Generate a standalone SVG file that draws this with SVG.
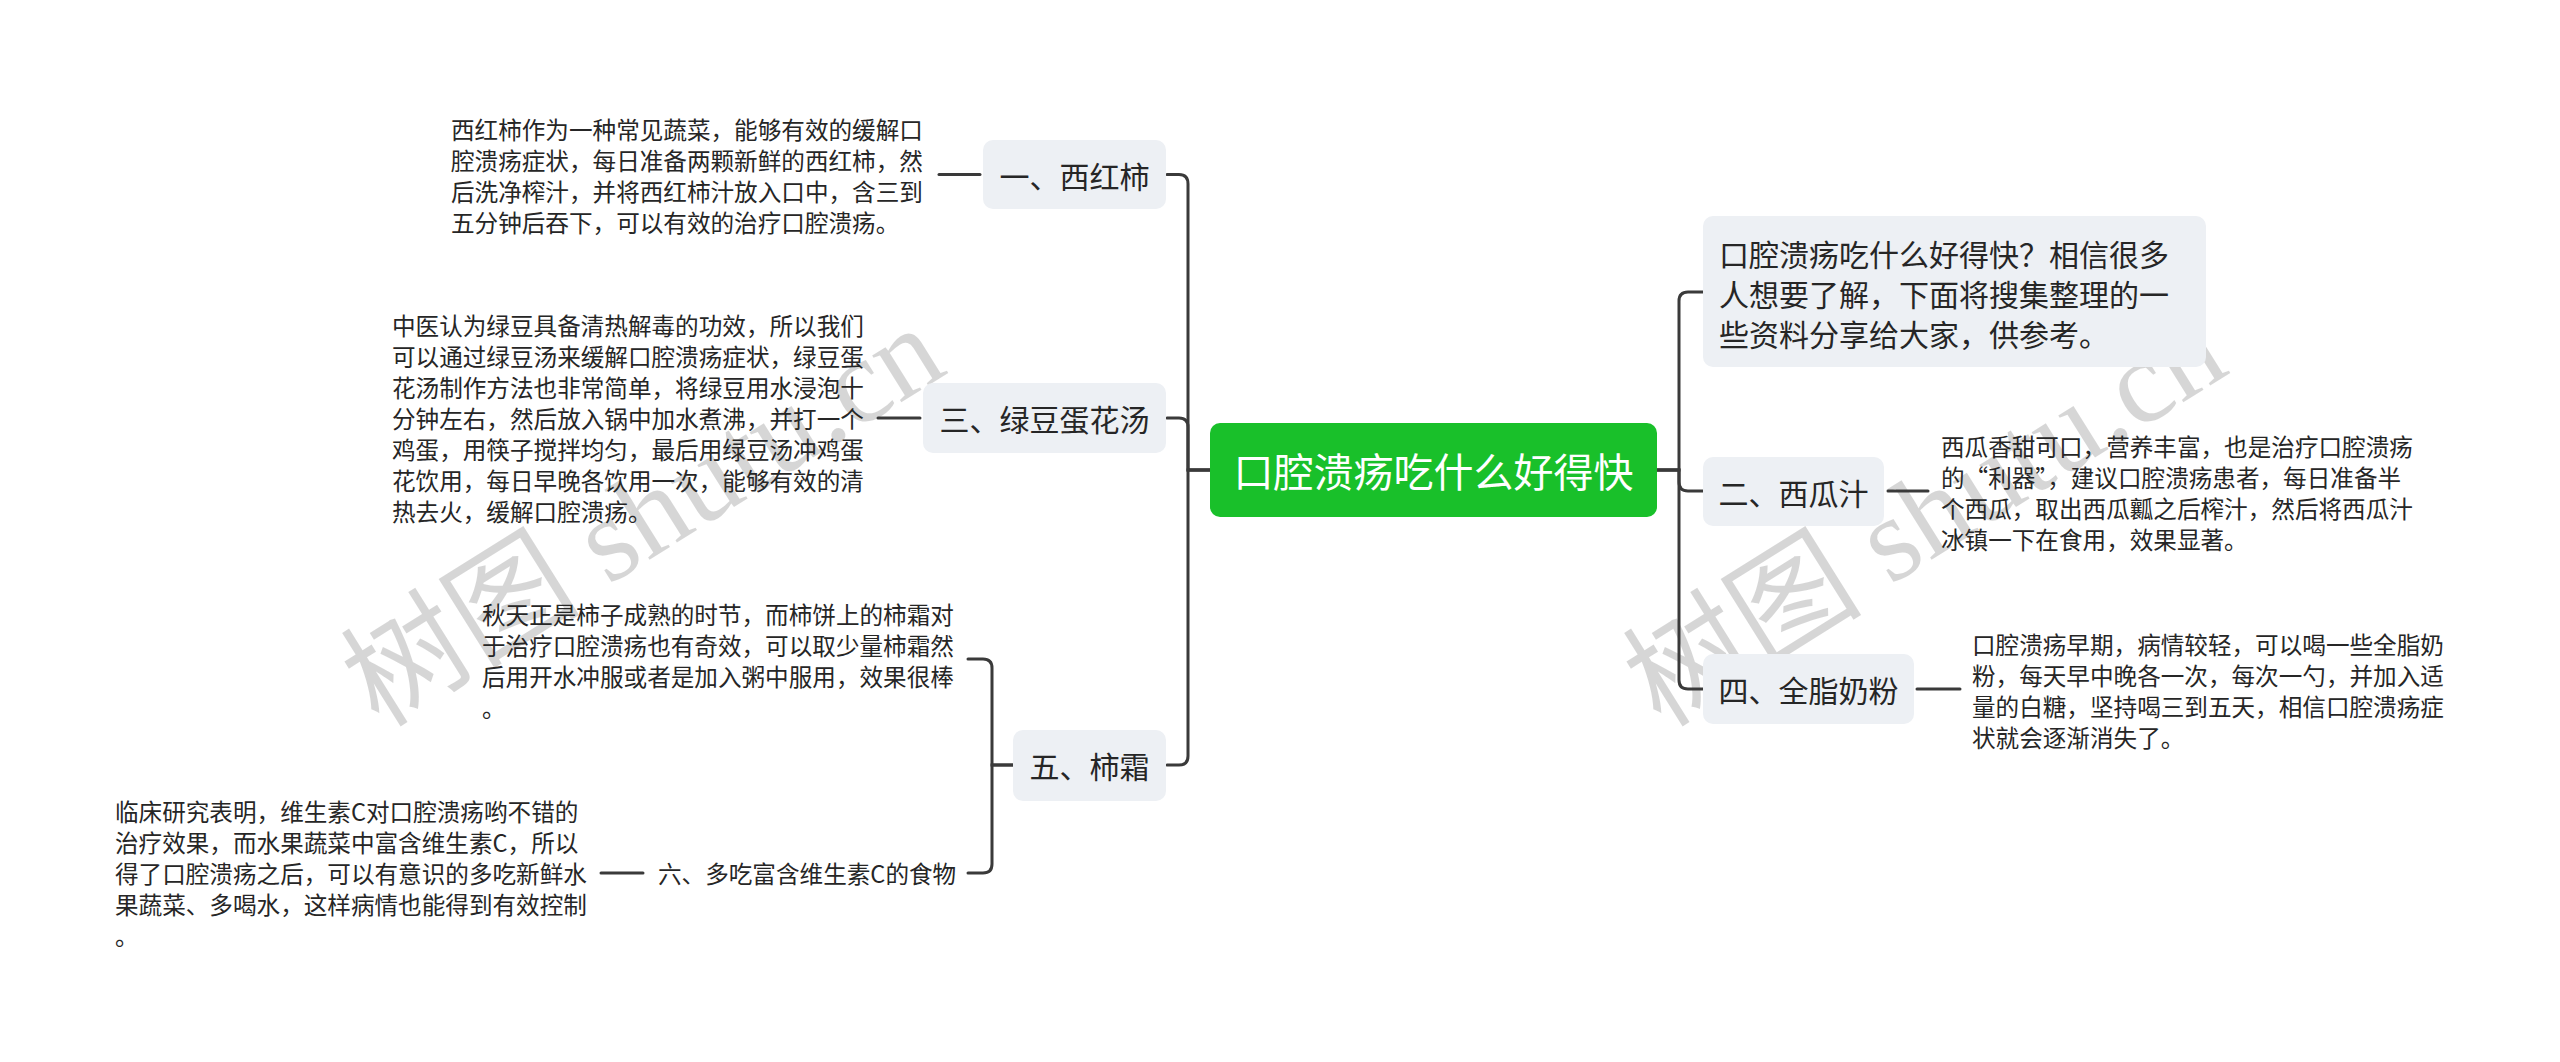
<svg xmlns="http://www.w3.org/2000/svg" width="2560" height="1062" viewBox="0 0 2560 1062">
<style>
text { font-family: "Noto Sans CJK SC", "Liberation Sans", sans-serif; dominant-baseline: central; }
.body { font-size: 23.6px; fill: #262626; }
.nt { font-size: 30px; fill: #262626; }
.box { fill: #EDF0F4; }
.link { stroke: #3a3a3a; stroke-width: 3; fill: none; stroke-linecap: round; }
.wm { font-family: "Liberation Serif", "Noto Sans CJK SC", serif; font-size: 120px; fill: #000; fill-opacity: 0.16; text-anchor: middle; }
</style>
<rect width="2560" height="1062" fill="#ffffff"/>
<g id="watermarks">
<text class="wm" transform="translate(643,516) rotate(-32)">树图 shutu.cn</text>
<text class="wm" transform="translate(1925,516) rotate(-32)">树图 shutu.cn</text>
</g>
<g id="connectors">
<path class="link" d="M1210,470 H1188 V184 Q1188,174.5 1179,174.5 H1167"/>
<path class="link" d="M1210,470 H1188 V427 Q1188,418 1179,418 H1167"/>
<path class="link" d="M1210,470 H1188 V756 Q1188,765 1179,765 H1167"/>
<path class="link" d="M1657,470 H1679 V301 Q1679,292 1688,292 H1703"/>
<path class="link" d="M1657,470 H1679 V482 Q1679,491 1688,491 H1703"/>
<path class="link" d="M1657,470 H1679 V680 Q1679,689 1688,689 H1703"/>
<path class="link" d="M1013,765 H992 V668 Q992,659 983,659 H968"/>
<path class="link" d="M1013,765 H992 V864 Q992,873 983,873 H968"/>
<path class="link" d="M939,174.5 H980"/>
<path class="link" d="M878,418 H920"/>
<path class="link" d="M1888,491 H1928"/>
<path class="link" d="M1917,689 H1960"/>
<path class="link" d="M601,873 H643"/>
</g>
<g id="center">
<rect x="1210" y="423" width="447" height="94" rx="10" fill="#19C02A"/>
<text x="1433.5" y="470" font-size="40" fill="#ffffff" text-anchor="middle">口腔溃疡吃什么好得快</text>
</g>
<g id="n1">
<rect class="box" x="983" y="140" width="183" height="69" rx="10"/>
<text class="nt" x="1074.5" y="174.5" text-anchor="middle">一、西红柿</text>
</g>
<g id="n1-text">
<text class="body" x="451" y="128.5">西红柿作为一种常见蔬菜，能够有效的缓解口</text>
<text class="body" x="451" y="159.5">腔溃疡症状，每日准备两颗新鲜的西红柿，然</text>
<text class="body" x="451" y="190.5">后洗净榨汁，并将西红柿汁放入口中，含三到</text>
<text class="body" x="451" y="221.5">五分钟后吞下，可以有效的治疗口腔溃疡。</text>
</g>
<g id="n3">
<rect class="box" x="923" y="383" width="243" height="70" rx="10"/>
<text class="nt" x="1044.5" y="418" text-anchor="middle">三、绿豆蛋花汤</text>
</g>
<g id="n3-text">
<text class="body" x="392" y="325">中医认为绿豆具备清热解毒的功效，所以我们</text>
<text class="body" x="392" y="356">可以通过绿豆汤来缓解口腔溃疡症状，绿豆蛋</text>
<text class="body" x="392" y="387">花汤制作方法也非常简单，将绿豆用水浸泡十</text>
<text class="body" x="392" y="418">分钟左右，然后放入锅中加水煮沸，并打一个</text>
<text class="body" x="392" y="449">鸡蛋，用筷子搅拌均匀，最后用绿豆汤冲鸡蛋</text>
<text class="body" x="392" y="480">花饮用，每日早晚各饮用一次，能够有效的清</text>
<text class="body" x="392" y="511">热去火，缓解口腔溃疡。</text>
</g>
<g id="n5">
<rect class="box" x="1013" y="730" width="153" height="71" rx="10"/>
<text class="nt" x="1089.5" y="765" text-anchor="middle">五、柿霜</text>
</g>
<g id="n5-text">
<text class="body" x="482" y="613.5">秋天正是柿子成熟的时节，而柿饼上的柿霜对</text>
<text class="body" x="482" y="644.5">于治疗口腔溃疡也有奇效，可以取少量柿霜然</text>
<text class="body" x="482" y="675.5">后用开水冲服或者是加入粥中服用，效果很棒</text>
<text class="body" x="482" y="706.5">。</text>
</g>
<g id="n6">
<text class="body" x="658" y="873">六、多吃富含维生素C的食物</text>
</g>
<g id="n6-text">
<text class="body" x="115" y="811">临床研究表明，维生素C对口腔溃疡哟不错的</text>
<text class="body" x="115" y="842">治疗效果，而水果蔬菜中富含维生素C，所以</text>
<text class="body" x="115" y="873">得了口腔溃疡之后，可以有意识的多吃新鲜水</text>
<text class="body" x="115" y="904">果蔬菜、多喝水，这样病情也能得到有效控制</text>
<text class="body" x="115" y="935">。</text>
</g>
<g id="intro">
<rect class="box" x="1703" y="216" width="503" height="151" rx="10"/>
<text class="nt" x="1719" y="253">口腔溃疡吃什么好得快？相信很多</text>
<text class="nt" x="1719" y="293">人想要了解，下面将搜集整理的一</text>
<text class="nt" x="1719" y="333">些资料分享给大家，供参考。</text>
</g>
<g id="n2">
<rect class="box" x="1703" y="457" width="181" height="69" rx="10"/>
<text class="nt" x="1793.5" y="491.5" text-anchor="middle">二、西瓜汁</text>
</g>
<g id="n2-text">
<text class="body" x="1941" y="445.5">西瓜香甜可口，营养丰富，也是治疗口腔溃疡</text>
<text class="body" x="1941" y="476.5">的“利器”，建议口腔溃疡患者，每日准备半</text>
<text class="body" x="1941" y="507.5">个西瓜，取出西瓜瓤之后榨汁，然后将西瓜汁</text>
<text class="body" x="1941" y="538.5">冰镇一下在食用，效果显著。</text>
</g>
<g id="n4">
<rect class="box" x="1703" y="654" width="211" height="70" rx="10"/>
<text class="nt" x="1808.5" y="689" text-anchor="middle">四、全脂奶粉</text>
</g>
<g id="n4-text">
<text class="body" x="1972" y="643.5">口腔溃疡早期，病情较轻，可以喝一些全脂奶</text>
<text class="body" x="1972" y="674.5">粉，每天早中晚各一次，每次一勺，并加入适</text>
<text class="body" x="1972" y="705.5">量的白糖，坚持喝三到五天，相信口腔溃疡症</text>
<text class="body" x="1972" y="736.5">状就会逐渐消失了。</text>
</g>
</svg>
